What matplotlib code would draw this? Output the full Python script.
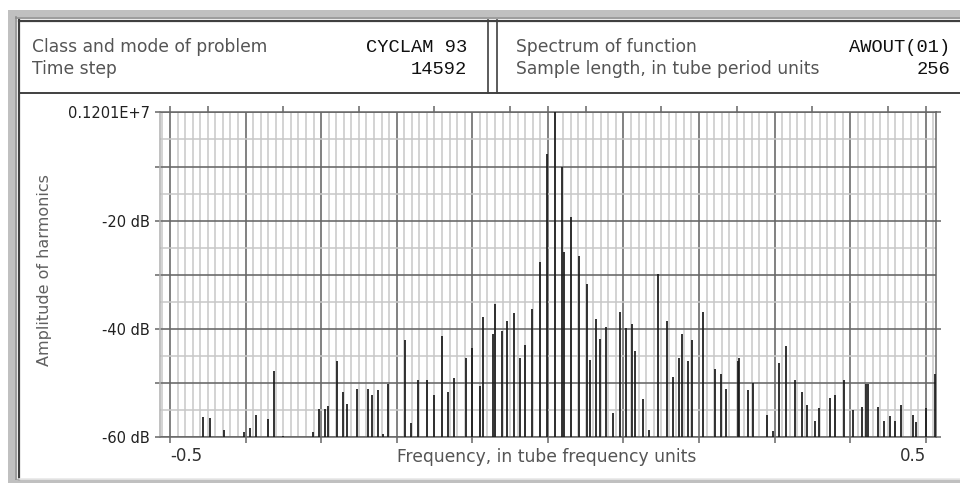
import matplotlib
matplotlib.use("Agg")
import matplotlib.pyplot as plt
from matplotlib.patches import Rectangle
import numpy as np

# harmonic frequencies (tube frequency units) and their levels in dB
freq = [-0.4563, -0.4467, -0.4285, -0.4021, -0.3945, -0.3862, -0.3703, -0.3624, -0.3501,
        -0.3104, -0.3024, -0.2949, -0.2905, -0.2786, -0.2707, -0.2662, -0.2522, -0.2384,
        -0.2323, -0.2244, -0.2181, -0.2119, -0.1886, -0.1807, -0.1722, -0.1603, -0.1503,
        -0.1405, -0.1321, -0.1242, -0.1087, -0.1004, -0.0902, -0.0862, -0.0722, -0.0699,
        -0.0603, -0.0545, -0.0448, -0.0365, -0.0302, -0.0206, -0.0104, -0.0007, 0.0095,
        0.0191, 0.0210, 0.0310, 0.0412, 0.0514, 0.0554, 0.0637, 0.0694, 0.0774, 0.0858,
        0.0955, 0.1034, 0.1114, 0.1153, 0.1255, 0.1339, 0.1458, 0.1577, 0.1656, 0.1732,
        0.1775, 0.1855, 0.1912, 0.2053, 0.2216, 0.2295, 0.2357, 0.2512, 0.2533, 0.2653,
        0.2719, 0.2896, 0.2979, 0.3055, 0.3155, 0.3274, 0.3359, 0.3433, 0.3535, 0.3592,
        0.3734, 0.3796, 0.3915, 0.4034, 0.4157, 0.4214, 0.4233, 0.4373, 0.4452, 0.4532,
        0.4594, 0.4673, 0.4836, 0.4872, 0.5000, 0.5123]
level_db = [-56.2, -56.4, -58.6, -59.1, -58.3, -55.8, -56.6, -47.7, -59.7,
            -59.1, -54.7, -54.7, -54.2, -46.0, -51.6, -53.8, -51.0, -51.0,
            -52.1, -51.3, -59.4, -50.2, -42.1, -57.4, -49.4, -49.4, -52.1,
            -41.3, -51.6, -49.0, -45.4, -43.5, -50.5, -37.7, -41.0, -35.4,
            -40.4, -38.5, -37.1, -45.4, -43.0, -36.3, -27.7, -7.6, 0.0,
            -10.0, -25.7, -19.3, -26.5, -31.7, -45.7, -38.2, -41.8, -39.6, -55.6,
            -36.8, -39.9, -39.0, -44.1, -53.0, -58.6, -29.9, -38.5, -48.8, -45.4,
            -41.0, -46.0, -42.1, -36.8, -47.4, -48.3, -51.0, -46.0, -45.4, -51.3,
            -50.0, -55.8, -58.8, -46.3, -43.2, -49.4, -51.6, -54.1, -56.9, -54.6,
            -52.7, -52.2, -49.4, -55.0, -54.4, -50.2, -50.2, -54.4, -56.9, -56.1,
            -56.9, -54.1, -55.8, -57.2, -54.6, -48.3]

header_left = [("Class and mode of problem", "CYCLAM 93"), ("Time step", "14592")]
header_right = [("Spectrum of function", "AWOUT(01)"),
                ("Sample length, in tube period units", "256")]
ytick_labels = {0: "0.1201E+7", -20: "-20 dB", -40: "-40 dB", -60: "-60 dB"}

W, H = 960, 483
SANS = "DejaVu Sans"
MONO = "Liberation Mono"


def fx(px):
    return px / W


def fy(py):
    return 1 - py / H


fig = plt.figure(figsize=(W / 100, H / 100), dpi=100)
fig.patch.set_facecolor("white")

# window frame drawn in pixel coordinates
bg = fig.add_axes([0, 0, 1, 1], zorder=0)
bg.set_xlim(0, W)
bg.set_ylim(H, 0)
bg.axis("off")
bg.add_patch(Rectangle((8, 10), W - 8, 7, color="#c0c0c0", lw=0))
bg.add_patch(Rectangle((8, 10), 7, H - 10, color="#c0c0c0", lw=0))
bg.add_patch(Rectangle((8, 479), W - 8, 4, color="#c0c0c0", lw=0))
bg.plot([15.5, 15.5], [17, 479], color="#8a8a8a", lw=1.2)
bg.plot([15.5, W], [17.5, 17.5], color="#8a8a8a", lw=1.2)
bg.plot([18.5, 18.5], [20, 479], color="#404040", lw=1.6)
bg.plot([18.5, W], [20.5, 20.5], color="#404040", lw=1.6)
bg.plot([18.5, W], [478.5, 478.5], color="#e8e8e8", lw=1.2)
bg.plot([18.5, W], [93, 93], color="#404040", lw=1.4)
bg.plot([488, 488], [20, 93], color="#404040", lw=1.2)
bg.plot([497, 497], [20, 93], color="#404040", lw=1.2)

for i, (name, val) in enumerate(header_left):
    y = 47 + i * 22
    bg.text(32, y, name, fontsize=12.3, family=SANS, color="#555555", va="center")
    bg.text(467, y, val, fontsize=13.5, family=MONO, color="#101010", va="center", ha="right")
for i, (name, val) in enumerate(header_right):
    y = 47 + i * 22
    bg.text(516, y, name, fontsize=12.3, family=SANS, color="#555555", va="center")
    bg.text(950, y, val, fontsize=13.5, family=MONO, color="#101010", va="center", ha="right")

# spectrum axes
left, right, top, bottom = 160, 936, 112.4, 437.3
ax = fig.add_axes([fx(left), fy(bottom), fx(right - left), (bottom - top) / H], zorder=1)
ax.set_facecolor("white")
ax.set_xlim(-0.5132, 0.5136)
ax.set_ylim(-60, 0)

ax.set_xticks(np.round(np.arange(-0.5, 0.51, 0.1), 2))
ax.set_xticks(np.round(np.arange(-0.51, 0.515, 0.01), 2), minor=True)
ax.set_yticks(np.arange(-60, 1, 10))
ax.set_yticks(np.arange(-55, 0, 10), minor=True)
ax.grid(which="minor", color="#c8c8c8", lw=1.1)
ax.grid(which="major", color="#666666", lw=1.15)
ax.set_axisbelow(True)

xl = ["-0.5"] + [""] * 9 + ["0.5"]
ax.set_xticklabels(xl, fontsize=12, family=SANS, color="#303030")
labs = ax.get_xticklabels()
labs[0].set_ha("left")
labs[-1].set_ha("right")
ax.set_yticklabels([ytick_labels.get(int(v), "") for v in ax.get_yticks()],
                   fontsize=10.5, family=SANS, color="#202020")
ax.tick_params(which="major", axis="x", length=4.3, width=1.1, color="#666666", pad=3)
ax.tick_params(which="major", axis="y", length=3.6, width=1.1, color="#666666", pad=3.5)
ax.tick_params(which="minor", length=0)

for side in ["top", "bottom", "right"]:
    ax.spines[side].set_color("#666666")
    ax.spines[side].set_linewidth(1.1)
ax.spines["left"].set_color("#b0b0b0")
ax.spines["left"].set_linewidth(1.1)

sec_top = ax.secondary_xaxis("top")
top_ticks = [-0.5] + list(np.round(np.arange(-0.45, 0.5, 0.1), 2)) + [0.0, 0.5]
sec_top.set_xticks(top_ticks)
sec_top.set_xticklabels([""] * len(top_ticks))
sec_top.tick_params(length=4.3, width=1.1, color="#666666")
sec_top.spines["top"].set_visible(False)

sec_right = ax.secondary_yaxis("right")
sec_right.set_yticks([0, -20, -40, -60])
sec_right.set_yticklabels([""] * 4)
sec_right.tick_params(length=3.6, width=1.1, color="#666666")
sec_right.spines["right"].set_visible(False)

ax.vlines(freq, -60, level_db, colors="#1a1a1a", lw=1.25, zorder=3)

fig.text(fx(547), fy(457), "Frequency, in tube frequency units", fontsize=12.3,
         family=SANS, color="#555555", ha="center", va="center")
fig.text(fx(45), fy(270), "Amplitude of harmonics", fontsize=11.5, family=SANS,
         color="#606060", ha="center", va="center", rotation=90)

fig.savefig("out.png", dpi=100)
